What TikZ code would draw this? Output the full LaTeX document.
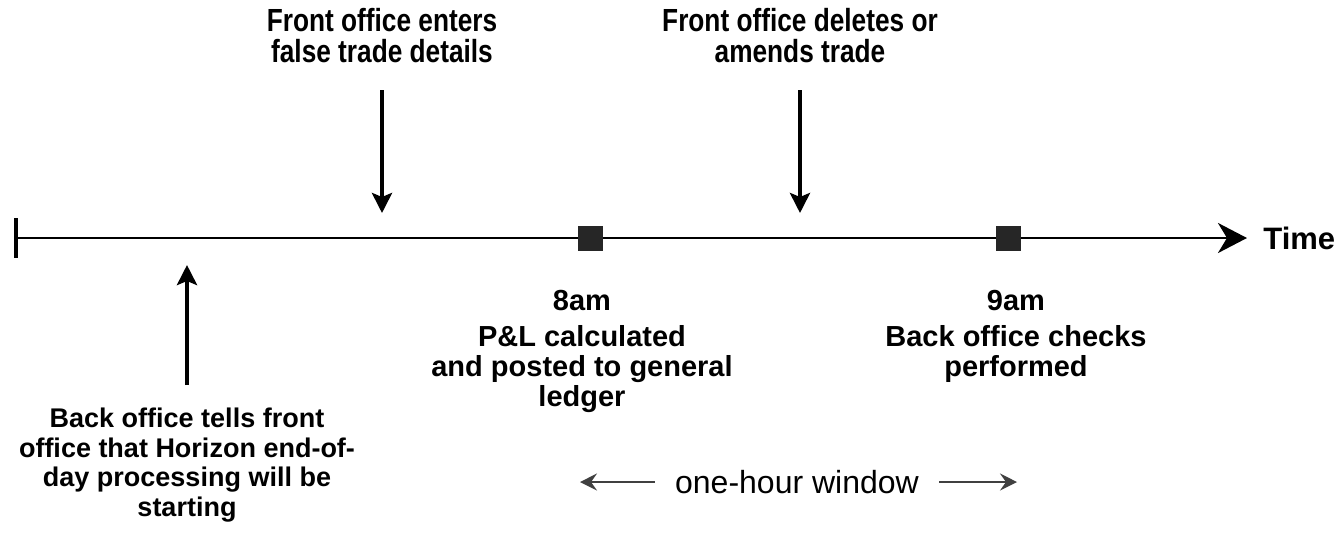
\documentclass[tikz,border=0pt]{standalone}
\usepackage{fontspec}
\setmainfont{Liberation Sans}
\newfontfamily\narrowfont[FakeStretch=0.82]{Liberation Sans}
\usetikzlibrary{arrows.meta}

\tikzset{
  timeline/.style={line width=1.4pt, -{Stealth[length=14.5pt,width=15pt,inset=4.5pt]}},
  tickmark/.style={fill=black, inner sep=0pt, minimum width=2pt, minimum height=20pt},
  hourmark/.style={fill=black!85, inner sep=0pt, minimum size=12.5pt},
  evarrow/.style={line width=2pt, -{Stealth[length=10pt,width=10pt,inset=2pt]}},
  winarrow/.style={line width=0.8pt, draw=black!75, -{Stealth[length=8.5pt,width=8.5pt,inset=3pt]}},
  toplabel/.style={align=center, inner sep=0pt, anchor=south,
    font=\narrowfont\bfseries\fontsize{16}{15.5}\selectfont},
  eventlabel/.style={align=center, inner sep=0pt, anchor=north,
    font=\bfseries\fontsize{13.5}{14.75}\selectfont},
  hourlabel/.style={align=center, inner sep=0pt, anchor=north,
    font=\bfseries\fontsize{14.5}{15}\selectfont}
}

\begin{document}
\begin{tikzpicture}
  \begin{scope}[x=0.5pt, y=-0.5pt]
    \useasboundingbox (0,0) rectangle (1340,532);

    % Timeline
    \node[tickmark] (origin) at (16,238) {};
    \node[anchor=west, inner sep=0pt, font=\bfseries\fontsize{15.5}{16}\selectfont] (time) at (1263,238) {Time};
    \draw (origin) edge[timeline, shorten >=8pt] (time.west);

    \node[hourmark] (h8) at (590,238) {};
    \node[hourmark] (h9) at (1008,238) {};

    \node[hourlabel] (h8text) at (582,290) {8am\\[3pt]P\&L calculated\\and posted to general\\ledger};
    \node[hourlabel] (h9text) at (1016,290) {9am\\[3pt]Back office checks\\performed};

    % Events
    \node[toplabel] (enter) at (382,63) {Front office enters\\false trade details};
    \node[toplabel] (amend) at (800,63) {Front office deletes or\\amends trade};
    \node[eventlabel] (tells) at (187,408) {Back office tells front\\office that Horizon end-of-\\day processing will be\\starting};

    \coordinate (enter tip) at (382,213);
    \coordinate (amend tip) at (800,213);
    \coordinate (tells tip) at (187,265);

    \draw (enter.south) edge[evarrow, shorten <=13.5pt] (enter tip);
    \draw (amend.south) edge[evarrow, shorten <=13.5pt] (amend tip);
    \draw (tells.north) edge[evarrow, shorten <=11.5pt] (tells tip);

    % Window
    \node[inner xsep=10pt, font=\fontsize{16}{16}\selectfont] (window) at (797,482) {one-hour window};
    \coordinate (win left) at (580,482);
    \coordinate (win right) at (1017,482);

    \draw (window) edge[winarrow] (win left);
    \draw (window) edge[winarrow] (win right);
  \end{scope}
\end{tikzpicture}
\end{document}
